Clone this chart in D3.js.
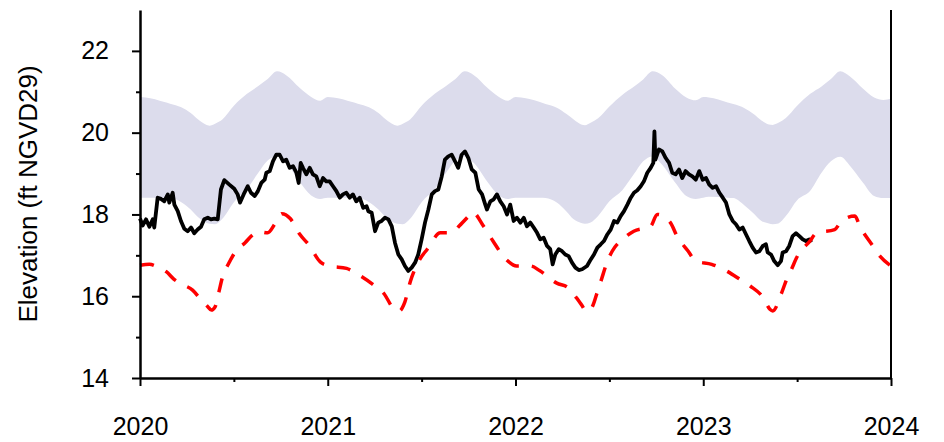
<!DOCTYPE html>
<html>
<head>
<meta charset="UTF-8">
<title>Elevation (ft NGVD29)</title>
<script src="https://cdn.jsdelivr.net/npm/d3@7"></script>
<style>
body { margin: 0; background: #fff; }
</style>
</head>
<body>
<div id="chart"></div>
<script>

// ---- data (decimal years, ft NGVD29) ----

// shaded band: upper and lower envelope
var bandT = [
  2020.00, 2020.03, 2020.13, 2020.16, 2020.22, 2020.27, 2020.31, 2020.35, 2020.37, 2020.40,
  2020.44, 2020.50, 2020.57, 2020.63, 2020.68, 2020.73, 2020.78, 2020.85, 2020.91, 2020.96,
  2021.00, 2021.03, 2021.13, 2021.16, 2021.22, 2021.27, 2021.31, 2021.35, 2021.37, 2021.40,
  2021.44, 2021.50, 2021.57, 2021.63, 2021.68, 2021.73, 2021.78, 2021.85, 2021.91, 2021.96,
  2022.00, 2022.03, 2022.13, 2022.16, 2022.22, 2022.27, 2022.31, 2022.35, 2022.37, 2022.40,
  2022.44, 2022.50, 2022.57, 2022.63, 2022.68, 2022.73, 2022.78, 2022.85, 2022.91, 2022.96,
  2023.00, 2023.03, 2023.13, 2023.16, 2023.22, 2023.27, 2023.31, 2023.35, 2023.37, 2023.40,
  2023.44, 2023.50, 2023.57, 2023.63, 2023.68, 2023.73, 2023.78, 2023.85, 2023.91, 2023.96,
  2024.00
]
var bandHi = [
  20.87, 20.86, 20.75, 20.71, 20.62, 20.48, 20.32, 20.20, 20.17, 20.22,
  20.33, 20.66, 20.95, 21.14, 21.31, 21.50, 21.40, 21.10, 20.88, 20.78,
  20.87, 20.86, 20.75, 20.71, 20.62, 20.48, 20.32, 20.20, 20.17, 20.22,
  20.33, 20.66, 20.95, 21.14, 21.31, 21.50, 21.40, 21.10, 20.88, 20.78,
  20.87, 20.86, 20.75, 20.70, 20.61, 20.46, 20.32, 20.20, 20.18, 20.24,
  20.35, 20.64, 20.93, 21.12, 21.30, 21.50, 21.41, 21.08, 20.86, 20.79,
  20.87, 20.86, 20.74, 20.70, 20.60, 20.45, 20.30, 20.20, 20.19, 20.24,
  20.36, 20.66, 20.95, 21.13, 21.31, 21.50, 21.38, 21.08, 20.86, 20.80,
  20.83
]
var bandLo = [
  18.41, 18.41, 18.41, 18.41, 18.30, 18.12, 17.93, 17.80, 17.77, 17.76,
  17.90, 18.30, 18.62, 19.02, 19.32, 19.42, 19.25, 18.80, 18.47, 18.38,
  18.41, 18.41, 18.41, 18.41, 18.30, 18.12, 17.93, 17.80, 17.77, 17.76,
  17.90, 18.30, 18.62, 19.02, 19.32, 19.42, 19.25, 18.80, 18.47, 18.38,
  18.41, 18.41, 18.41, 18.40, 18.29, 18.08, 17.88, 17.79, 17.77, 17.80,
  17.96, 18.32, 18.60, 18.98, 19.30, 19.42, 19.22, 18.78, 18.45, 18.38,
  18.41, 18.43, 18.41, 18.40, 18.22, 18.02, 17.84, 17.78, 17.76, 17.78,
  17.96, 18.35, 18.58, 19.02, 19.30, 19.41, 19.20, 18.78, 18.45, 18.40,
  18.40
]

// red dashed reference line
var refT = [
  2020.00, 2020.05, 2020.10, 2020.14, 2020.18, 2020.23, 2020.28, 2020.32, 2020.36, 2020.38,
  2020.40, 2020.42, 2020.44, 2020.47, 2020.51, 2020.56, 2020.60, 2020.63, 2020.68, 2020.72,
  2020.755, 2020.80, 2020.85, 2020.90, 2020.96,
  2021.01, 2021.10, 2021.17, 2021.24, 2021.30, 2021.35, 2021.38, 2021.41, 2021.44, 2021.49,
  2021.53, 2021.60, 2021.66, 2021.70, 2021.75, 2021.77, 2021.83, 2021.88, 2021.95,
  2022.005, 2022.08, 2022.13, 2022.22, 2022.28, 2022.35, 2022.38, 2022.41, 2022.435, 2022.455,
  2022.49, 2022.515, 2022.58, 2022.63, 2022.72, 2022.755, 2022.825, 2022.86, 2022.92, 2022.96,
  2023.045, 2023.107, 2023.197, 2023.25, 2023.32, 2023.355, 2023.37, 2023.418, 2023.444, 2023.47,
  2023.497, 2023.568, 2023.604, 2023.70, 2023.737, 2023.808, 2023.834, 2023.897, 2023.941,
  2024.00
]
var refV = [
  16.76, 16.78, 16.70, 16.60, 16.42, 16.28, 16.15, 15.94, 15.75, 15.66,
  15.74, 16.10, 16.48, 16.78, 17.10, 17.31, 17.50, 17.58, 17.55, 17.78,
  18.02, 17.90, 17.52, 17.25, 16.84,
  16.74, 16.68, 16.51, 16.29, 16.06, 15.70, 15.64, 15.85, 16.36, 16.90,
  17.15, 17.55, 17.55, 17.72, 17.96, 18.06, 17.71, 17.35, 16.90,
  16.74, 16.74, 16.62, 16.32, 16.21, 15.80, 15.62, 15.75, 16.09, 16.37,
  16.86, 17.10, 17.43, 17.59, 17.71, 18.00, 17.80, 17.47, 17.10, 16.86,
  16.78, 16.66, 16.41, 16.25, 15.96, 15.68, 15.64, 16.09, 16.41, 16.66,
  16.94, 17.35, 17.55, 17.63, 17.84, 17.96, 17.71, 17.27, 16.98,
  16.74
]

// observed stage (black)
var obsT = [
  2020.000, 2020.014, 2020.032, 2020.050, 2020.068, 2020.076, 2020.094, 2020.112, 2020.129, 2020.148,
  2020.156, 2020.174, 2020.183, 2020.201, 2020.218, 2020.236, 2020.254, 2020.272, 2020.289, 2020.307,
  2020.325, 2020.342, 2020.361, 2020.378, 2020.396, 2020.414, 2020.431, 2020.449, 2020.476, 2020.502,
  2020.520, 2020.533, 2020.556, 2020.574, 2020.591, 2020.611, 2020.628, 2020.646, 2020.664, 2020.673,
  2020.691, 2020.708, 2020.726, 2020.744, 2020.762, 2020.779, 2020.797, 2020.815, 2020.833, 2020.845,
  2020.856, 2020.868, 2020.886, 2020.904, 2020.921, 2020.939, 2020.957, 2020.975, 2020.992,
  2021.010, 2021.028, 2021.046, 2021.064, 2021.081, 2021.099, 2021.117, 2021.134, 2021.152, 2021.170,
  2021.189, 2021.207, 2021.216, 2021.234, 2021.252, 2021.269, 2021.287, 2021.305, 2021.323, 2021.341,
  2021.358, 2021.376, 2021.394, 2021.411, 2021.429, 2021.447, 2021.465, 2021.482, 2021.500, 2021.518,
  2021.536, 2021.554, 2021.571, 2021.589, 2021.607, 2021.624, 2021.642, 2021.660, 2021.678, 2021.695,
  2021.713, 2021.731, 2021.749, 2021.767, 2021.786, 2021.804, 2021.822, 2021.839, 2021.848, 2021.866,
  2021.884, 2021.901, 2021.919, 2021.937, 2021.955, 2021.972, 2021.990,
  2022.008, 2022.026, 2022.044, 2022.061, 2022.079, 2022.097, 2022.115, 2022.132, 2022.150, 2022.168,
  2022.185, 2022.198, 2022.212, 2022.230, 2022.248, 2022.265, 2022.283, 2022.301, 2022.319, 2022.337,
  2022.355, 2022.381, 2022.401, 2022.418, 2022.436, 2022.454, 2022.471, 2022.489, 2022.507, 2022.525,
  2022.542, 2022.560, 2022.578, 2022.596, 2022.614, 2022.631, 2022.649, 2022.667, 2022.684, 2022.702,
  2022.720, 2022.734, 2022.740, 2022.745, 2022.764, 2022.782, 2022.800, 2022.818, 2022.835, 2022.853,
  2022.871, 2022.888, 2022.906, 2022.924, 2022.942, 2022.960, 2022.979, 2022.997,
  2023.015, 2023.032, 2023.050, 2023.068, 2023.086, 2023.104, 2023.121, 2023.139, 2023.157, 2023.174,
  2023.192, 2023.210, 2023.228, 2023.245, 2023.263, 2023.281, 2023.299, 2023.317, 2023.334, 2023.343,
  2023.361, 2023.378, 2023.397, 2023.414, 2023.423, 2023.441, 2023.458, 2023.476, 2023.494, 2023.512,
  2023.530, 2023.547, 2023.565, 2023.576
]
var obsV = [
  17.90, 17.73, 17.88, 17.70, 17.88, 17.68, 18.41, 18.38, 18.32, 18.49,
  18.29, 18.53, 18.24, 18.08, 17.84, 17.65, 17.59, 17.68, 17.54, 17.63,
  17.70, 17.88, 17.92, 17.88, 17.90, 17.88, 18.61, 18.84, 18.73, 18.63,
  18.49, 18.29, 18.53, 18.69, 18.53, 18.45, 18.57, 18.77, 18.85, 19.02,
  19.06, 19.30, 19.46, 19.46, 19.30, 19.34, 19.14, 19.18, 19.02, 18.77,
  19.26, 19.14, 18.98, 19.14, 18.98, 18.93, 18.69, 18.89, 18.81,
  18.81, 18.69, 18.57, 18.41, 18.49, 18.53, 18.41, 18.49, 18.32, 18.41,
  18.16, 18.20, 18.08, 18.04, 17.59, 17.80, 17.84, 17.92, 17.88, 17.71,
  17.31, 17.02, 16.90, 16.74, 16.62, 16.70, 16.82, 17.02, 17.39, 17.80,
  18.12, 18.49, 18.57, 18.61, 18.93, 19.34, 19.42, 19.46, 19.30, 19.14,
  19.46, 19.54, 19.38, 19.10, 19.02, 18.61, 18.49, 18.24, 18.12, 18.32,
  18.37, 18.49, 18.32, 18.20, 18.00, 18.24, 17.84,
  17.92, 17.80, 17.92, 17.71, 17.80, 17.68, 17.55, 17.39, 17.43, 17.23,
  17.15, 16.78, 17.02, 17.15, 17.10, 17.02, 16.98, 16.82, 16.70, 16.64,
  16.66, 16.74, 16.90, 17.02, 17.19, 17.27, 17.35, 17.51, 17.63, 17.84,
  17.80, 17.96, 18.08, 18.24, 18.41, 18.53, 18.59, 18.69, 18.81, 19.02,
  19.14, 19.26, 20.03, 19.34, 19.59, 19.54, 19.38, 19.26, 19.02, 18.98,
  19.10, 18.89, 19.06, 18.98, 18.93, 18.85, 19.06, 18.85,
  18.89, 18.73, 18.65, 18.69, 18.53, 18.41, 18.29, 18.00, 17.84, 17.76,
  17.63, 17.68, 17.51, 17.35, 17.19, 17.07, 17.10, 17.23, 17.27, 17.07,
  17.02, 16.86, 16.76, 16.86, 17.07, 17.10, 17.23, 17.47, 17.54, 17.47,
  17.39, 17.35, 17.39, 17.32
]

// axis ticks
var yMajor = [14, 16, 18, 20, 22]
var yMinor = [15, 17, 19, 21]
var xMajor = [2020, 2021, 2022, 2023, 2024]
var xMinor = [2020.5, 2021.5, 2022.5, 2023.5]
var yTitle = "Elevation (ft NGVD29)"

// ---- layout ----

var svgW = 944, svgH = 442
var plotL = 140, plotR = 891, plotT = 10, plotB = 378
var fontFam = "Arial, 'Liberation Sans', sans-serif"

var x = d3.scaleLinear().domain([2020, 2024]).range([plotL, plotR])
var y = d3.scaleLinear().domain([14, 23]).range([plotB, plotT])

var svg = d3.select("#chart")
  .append("svg")
  .attr("width", svgW)
  .attr("height", svgH)
  .style("display", "block")

// band
var band = bandT.map(function(t, i) { return { t: t, hi: bandHi[i], lo: bandLo[i] } })
svg.append("path")
  .datum(band)
  .attr("fill", "#dcdcec")
  .attr("stroke", "none")
  .attr("d", d3.area()
    .curve(d3.curveMonotoneX)
    .x(function(d) { return x(d.t) })
    .y0(function(d) { return y(d.lo) })
    .y1(function(d) { return y(d.hi) }))

// observed stage
var obs = obsT.map(function(t, i) { return { t: t, v: obsV[i] } })
svg.append("path")
  .datum(obs)
  .attr("fill", "none")
  .attr("stroke", "#000")
  .attr("stroke-width", 3.8)
  .attr("stroke-linejoin", "round")
  .attr("d", d3.line()
    .x(function(d) { return x(d.t) })
    .y(function(d) { return y(d.v) }))

// red dashed line
var ref = refT.map(function(t, i) { return { t: t, v: refV[i] } })
svg.append("path")
  .datum(ref)
  .attr("fill", "none")
  .attr("stroke", "#ff0000")
  .attr("stroke-width", 3.5)
  .attr("stroke-dasharray", "14,13")
  .attr("d", d3.line()
    .curve(d3.curveMonotoneX)
    .x(function(d) { return x(d.t) })
    .y(function(d) { return y(d.v) }))

// y axis
var yAxis = svg.append("g")
  .attr("transform", "translate(" + plotL + ",0)")
  .call(d3.axisLeft(y).tickValues(yMajor).tickSize(8).tickSizeOuter(0).tickPadding(23))
yAxis.append("g")
  .call(d3.axisLeft(y).tickValues(yMinor).tickSize(4).tickFormat(""))
  .select(".domain").remove()

// x axis
var xAxis = svg.append("g")
  .attr("transform", "translate(0," + plotB + ")")
  .call(d3.axisBottom(x).tickValues(xMajor).tickFormat(d3.format("d")).tickSize(8).tickSizeOuter(0).tickPadding(31))
xAxis.append("g")
  .call(d3.axisBottom(x).tickValues(xMinor).tickSize(4).tickFormat(""))
  .select(".domain").remove()

// right frame line
svg.append("line")
  .attr("x1", plotR).attr("x2", plotR)
  .attr("y1", plotT).attr("y2", plotB)
  .attr("stroke", "#000")
  .attr("stroke-width", 2)

svg.selectAll(".domain").attr("stroke", "#000").attr("stroke-width", 2.5)
svg.selectAll(".tick line").attr("stroke", "#000").attr("stroke-width", 2)
svg.selectAll(".tick text")
  .attr("fill", "#000")
  .style("font-family", fontFam)
  .style("font-size", "25px")

// y title
svg.append("text")
  .attr("transform", "translate(37,194) rotate(-90)")
  .attr("text-anchor", "middle")
  .style("font-family", fontFam)
  .style("font-size", "26px")
  .attr("fill", "#000")
  .text(yTitle)

</script>
</body>
</html>
